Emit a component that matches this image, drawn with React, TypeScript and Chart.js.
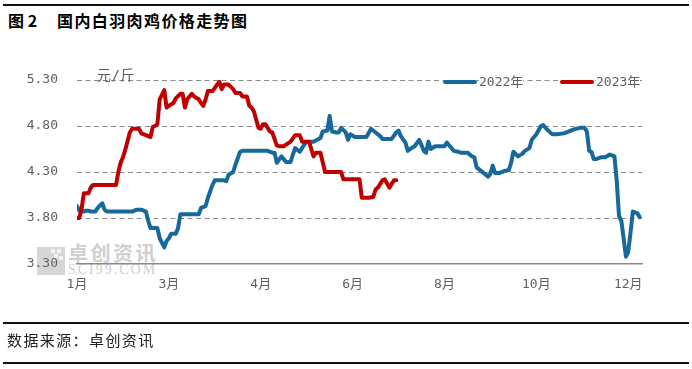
import React, { useEffect, useRef } from 'react';
import { Chart, registerables } from 'chart.js';

Chart.register(...registerables);

// x is a trading-day index from the start of January
const xTickPositions = [0, 40, 80, 120, 160, 200, 240];
const xTickLabels = ['1月', '3月', '4月', '6月', '8月', '10月', '12月'];
const yTicks = [3.3, 3.8, 4.3, 4.8, 5.3];

const days2022 = [0, 1, 3, 4, 5, 6, 8, 9, 11, 12, 13, 24, 26, 28, 30, 31, 32, 35, 36, 38, 39, 40, 41, 43, 44, 45, 46, 53, 54, 56, 57, 59, 60, 64, 65, 66, 68, 69, 71, 72, 83, 85, 86, 87, 89, 91, 93, 94, 95, 97, 99, 100, 103, 106, 107, 109, 110, 111, 113, 114, 115, 117, 118, 119, 121, 126, 128, 130, 132, 133, 137, 139, 140, 141, 143, 144, 145, 147, 149, 151, 152, 153, 154, 156, 160, 161, 164, 166, 167, 170, 172, 173, 174, 176, 178, 179, 180, 181, 182, 184, 186, 188, 189, 190, 192, 194, 195, 197, 198, 199, 200, 202, 203, 204, 206, 207, 209, 212, 214, 216, 219, 221, 222, 223, 224, 225, 226, 228, 230, 232, 234, 235, 236, 237, 238, 239, 240, 241, 242, 243, 244, 245];
const price2022 = [3.93, 3.88, 3.87, 3.88, 3.88, 3.87, 3.87, 3.91, 3.96, 3.89, 3.87, 3.87, 3.89, 3.89, 3.87, 3.77, 3.69, 3.69, 3.58, 3.48, 3.55, 3.58, 3.63, 3.63, 3.69, 3.84, 3.84, 3.84, 3.91, 3.93, 4.02, 4.16, 4.21, 4.21, 4.20, 4.27, 4.30, 4.38, 4.52, 4.53, 4.53, 4.51, 4.51, 4.40, 4.47, 4.41, 4.41, 4.49, 4.56, 4.52, 4.60, 4.63, 4.63, 4.67, 4.74, 4.75, 4.91, 4.74, 4.73, 4.73, 4.78, 4.73, 4.65, 4.71, 4.68, 4.68, 4.77, 4.73, 4.69, 4.66, 4.66, 4.73, 4.75, 4.69, 4.62, 4.53, 4.55, 4.58, 4.65, 4.53, 4.51, 4.63, 4.55, 4.58, 4.58, 4.62, 4.53, 4.52, 4.51, 4.51, 4.47, 4.46, 4.35, 4.31, 4.27, 4.25, 4.28, 4.37, 4.29, 4.29, 4.31, 4.32, 4.40, 4.52, 4.47, 4.50, 4.53, 4.56, 4.65, 4.68, 4.71, 4.80, 4.81, 4.78, 4.73, 4.71, 4.71, 4.72, 4.74, 4.76, 4.78, 4.78, 4.74, 4.53, 4.52, 4.44, 4.44, 4.46, 4.46, 4.49, 4.47, 4.20, 3.82, 3.77, 3.58, 3.38, 3.43, 3.64, 3.87, 3.86, 3.85, 3.81];

const days2023 = [0, 1, 2, 3, 5, 6, 7, 17, 18, 19, 20, 21, 23, 24, 27, 28, 30, 32, 33, 34, 35, 36, 38, 39, 40, 42, 43, 45, 46, 47, 48, 50, 51, 53, 54, 55, 56, 57, 59, 61, 62, 63, 64, 66, 68, 69, 71, 72, 74, 75, 76, 77, 79, 80, 81, 82, 84, 85, 87, 88, 90, 93, 95, 97, 98, 101, 103, 104, 106, 108, 115, 116, 123, 124, 127, 129, 130, 131, 133, 134, 136, 138, 139];
const price2023 = [3.80, 3.80, 3.90, 4.07, 4.07, 4.13, 4.16, 4.16, 4.30, 4.40, 4.46, 4.54, 4.73, 4.77, 4.77, 4.72, 4.70, 4.68, 4.79, 4.80, 4.82, 5.09, 5.19, 5.00, 5.02, 5.05, 5.10, 5.15, 5.15, 5.00, 5.09, 5.15, 5.12, 5.09, 5.05, 5.02, 5.09, 5.18, 5.18, 5.25, 5.28, 5.20, 5.25, 5.25, 5.20, 5.16, 5.16, 5.12, 5.12, 5.02, 5.00, 4.96, 4.78, 4.77, 4.82, 4.82, 4.74, 4.73, 4.59, 4.58, 4.58, 4.63, 4.70, 4.70, 4.63, 4.63, 4.47, 4.51, 4.51, 4.30, 4.30, 4.22, 4.22, 4.02, 4.02, 4.03, 4.11, 4.13, 4.21, 4.22, 4.13, 4.21, 4.21];

const seriesNames = ['2022年', '2023年'];
const seriesColors = ['#17699B', '#C00000'];
const unitLabel = '元/斤';
const titleNo = '图 2';
const titleText = '国内白羽肉鸡价格走势图';
const sourceText = '数据来源：卓创资讯';

const axisFont = "'DejaVu Sans Mono', 'Noto Sans CJK SC', sans-serif";
const cjkFont = "'Noto Sans CJK SC', sans-serif";
const textGrey = '#5f5f5f';

export default function App() {
  const canvasRef = useRef<HTMLCanvasElement | null>(null);

  useEffect(() => {
    const canvas = canvasRef.current;
    if (!canvas) return;
    const chart = new Chart(canvas, {
      type: 'line',
      data: {
        datasets: [
          {
            label: seriesNames[0],
            data: days2022.map((d, i) => ({ x: d, y: price2022[i] })),
            borderColor: seriesColors[0],
            backgroundColor: seriesColors[0],
            borderWidth: 4,
            pointRadius: 0,
            tension: 0,
            borderJoinStyle: 'round',
            borderCapStyle: 'round',
            order: 2,
          },
          {
            label: seriesNames[1],
            data: days2023.map((d, i) => ({ x: d, y: price2023[i] })),
            borderColor: seriesColors[1],
            backgroundColor: seriesColors[1],
            borderWidth: 4,
            pointRadius: 0,
            tension: 0,
            borderJoinStyle: 'round',
            borderCapStyle: 'round',
            order: 1,
          },
        ],
      },
      options: {
        responsive: false,
        animation: false,
        devicePixelRatio: 1,
        layout: { padding: { left: 0, top: 80, right: 50, bottom: 75 } },
        plugins: {
          legend: { display: false },
          tooltip: { enabled: false },
        },
        scales: {
          x: {
            type: 'linear',
            min: 0,
            max: 246,
            afterBuildTicks: (scale: any) => {
              scale.ticks = xTickPositions.map((v) => ({ value: v }));
            },
            afterFit: (scale: any) => {
              scale.height = 30;
            },
            grid: { display: false, drawTicks: false },
            border: { display: true, color: '#8a8a8a', width: 1.5 },
            ticks: {
              autoSkip: false,
              maxRotation: 0,
              padding: 13,
              color: textGrey,
              font: { family: axisFont, size: 13 },
              callback: (_v: any, i: number) => xTickLabels[i],
            },
          },
          y: {
            type: 'linear',
            min: 3.3,
            max: 5.3,
            afterBuildTicks: (scale: any) => {
              scale.ticks = yTicks.map((v) => ({ value: v }));
            },
            afterFit: (scale: any) => {
              scale.width = 77;
            },
            grid: {
              drawTicks: false,
              color: (ctx: any) => (ctx.tick && ctx.tick.value === 3.3 ? 'rgba(0,0,0,0)' : '#8a8a8a'),
              lineWidth: 1,
            },
            border: { display: false, dash: [5, 3.5] },
            ticks: {
              padding: 19,
              color: textGrey,
              font: { family: axisFont, size: 13 },
              callback: (v: any) => Number(v).toFixed(2),
            },
          },
        },
      } as any,
    });
    return () => chart.destroy();
  }, []);

  const abs = (s: React.CSSProperties): React.CSSProperties => ({ position: 'absolute', margin: 0, whiteSpace: 'nowrap', ...s });
  const legendLeft = [443, 560];

  return (
    <div style={{ position: 'fixed', left: 0, top: 0, width: 692, height: 369, background: '#fff', overflow: 'hidden' }}>
      {/* rules */}
      <div style={abs({ left: 3, top: 4, width: 686, height: 2, background: '#111' })} />
      <div style={abs({ left: 3, top: 322, width: 686, height: 2, background: '#111' })} />
      <div style={abs({ left: 3, top: 362, width: 686, height: 2, background: '#111' })} />
      {/* title */}
      <div style={abs({ left: 8, top: 11, fontFamily: cjkFont, fontWeight: 700, fontSize: 16, lineHeight: '18px', color: '#000' })}>{titleNo}</div>
      <div style={abs({ left: 57, top: 11, fontFamily: cjkFont, fontWeight: 700, fontSize: 16, lineHeight: '18px', letterSpacing: '1.4px', color: '#000' })}>{titleText}</div>
      {/* watermark */}
      <div style={abs({ left: 37, top: 247, width: 28, height: 28, background: '#d6d6d6' })}>
        <div style={abs({ left: 14, top: 2, width: 4, height: 4, background: '#f2f2f2' })} />
        <div style={abs({ left: 20, top: 2, width: 4, height: 4, background: '#f2f2f2' })} />
        <div style={abs({ left: 17, top: 7, width: 4, height: 4, background: '#f2f2f2' })} />
        <div style={abs({ left: 22, top: 9, width: 4, height: 4, background: '#f2f2f2' })} />
        <div style={abs({ left: 14, top: 12, width: 4, height: 4, background: '#f2f2f2' })} />
      </div>
      <div style={abs({ left: 68, top: 242, fontFamily: cjkFont, fontWeight: 700, fontSize: 20, lineHeight: '22px', letterSpacing: '2.5px', color: '#d0d0d0' })}>卓创资讯</div>
      <div style={abs({ left: 68, top: 263, fontFamily: "'Liberation Serif', serif", fontSize: 14, lineHeight: '13px', letterSpacing: '2px', color: '#d0d0d0' })}>SCI99.COM</div>
      {/* chart */}
      <canvas ref={canvasRef} width={692} height={369} style={abs({ left: 0, top: 0, width: 692, height: 369 })} />
      {/* unit */}
      <div style={abs({ left: 97, top: 67, fontFamily: axisFont, fontSize: 14, lineHeight: '16px', letterSpacing: '0.5px', color: textGrey })}>{unitLabel}</div>
      {/* legend */}
      {seriesNames.map((name, i) => (
        <React.Fragment key={name}>
          <div style={abs({ left: legendLeft[i], top: 80, width: 34, height: 4, borderRadius: 2, background: seriesColors[i] })} />
          <div style={abs({ left: legendLeft[i] + 36, top: 74, fontFamily: axisFont, fontSize: 13, lineHeight: '15px', color: textGrey, background: '#fff' })}>{name}</div>
        </React.Fragment>
      ))}
      {/* footer */}
      <div style={abs({ left: 7, top: 331, fontFamily: cjkFont, fontSize: 15, lineHeight: '17px', letterSpacing: '1.4px', color: '#222' })}>{sourceText}</div>
    </div>
  );
}
